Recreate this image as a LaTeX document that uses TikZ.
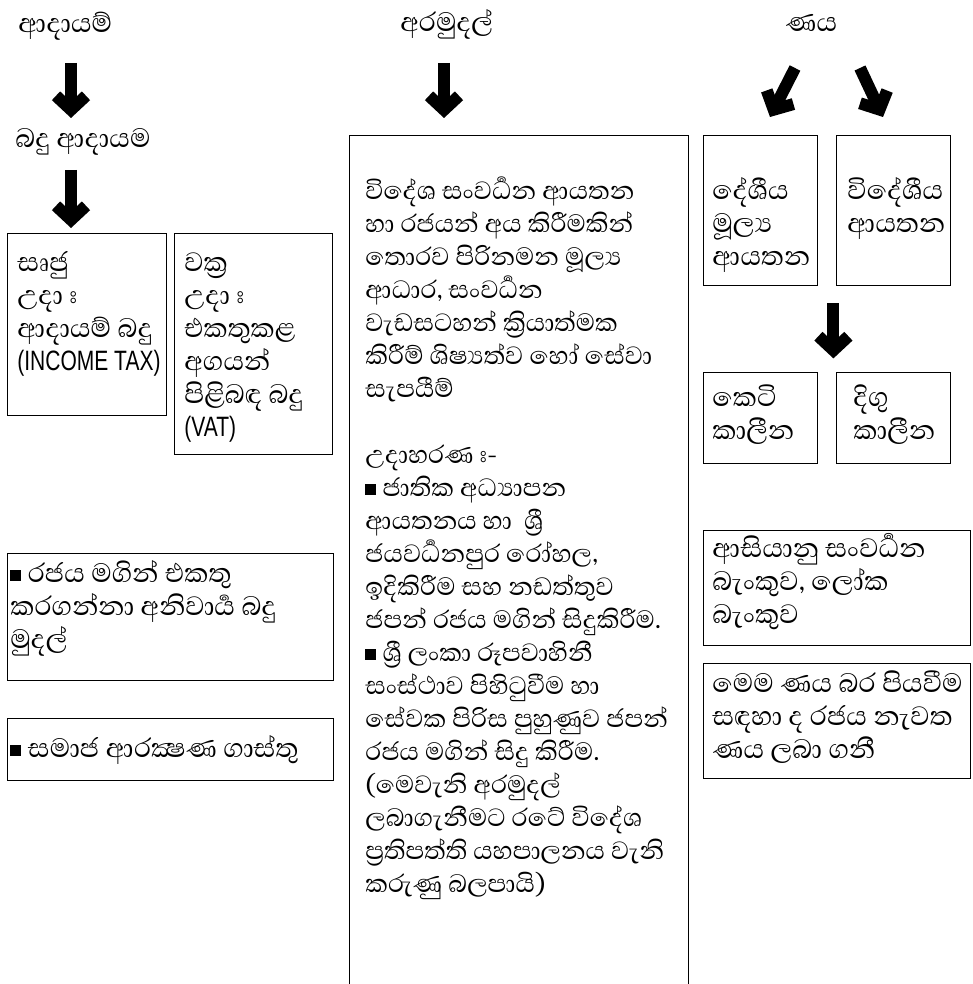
\documentclass[tikz,border=0pt]{standalone}
\usepackage{fontspec}
\setmainfont{Abhaya Libre}[Script=Sinhala]
\newfontfamily\latinfont[FakeStretch=0.75]{Liberation Sans}
\usetikzlibrary{arrows.meta}
\newcommand{\sqb}{\rule[0.5pt]{5.5pt}{5.5pt}}
\newcommand{\lnstrut}{\rule{0pt}{18pt}}
\lineskiplimit=-100pt

\begin{document}
\begin{tikzpicture}[x=0.5pt, y=-0.5pt,
    every node/.style={font=\fontsize{17}{16.5}\selectfont},
    box/.style={draw, line width=0.7pt, anchor=north west, inner sep=0pt},
    head/.style={anchor=base west, inner sep=0pt},
    txt/.style={anchor=north west, align=left, inner sep=0pt},
    bigarrow/.style={line width=6pt, -{Straight Barb[length=7pt, width=15pt]}}]
        \useasboundingbox (0,0) rectangle (973,984);

        % Headings
        \node[head] (income) at (18,33) {ආදායම්};
        \node[head] (taxrev) at (15,148) {බදු ආදායම};
        \node[head] (grants) at (400,32) {අරමුදල්};
        \node[head] (loans) at (785,32) {ණය};

        % Tax boxes
        \node[box, minimum width=79.5pt, minimum height=91pt] (direct) at (7,233) {};
        \node[txt] (directtxt) at ([shift={(10,2)}]direct.north west)
            {\lnstrut සෘජු\\උදා^^^^00a0ඃ\\ආදායම් බදු\\{\latinfont\fontsize{14}{16.5}\selectfont (INCOME TAX)}};
        \node[box, minimum width=79pt, minimum height=110.5pt] (indirect) at (174,233) {};
        \node[txt] (indirecttxt) at ([shift={(10,2)}]indirect.north west)
            {\lnstrut වක්^^^^200dර\\උදා^^^^00a0ඃ\\එකතුකළ\\අගයන්\\පිළිබඳ බදු\\{\latinfont\fontsize{14}{16.5}\selectfont (VAT)}};
        \node[box, minimum width=163pt, minimum height=63.5pt] (compulsory) at (7,553) {};
        \node[txt] (compulsorytxt) at ([shift={(3,-7)}]compulsory.north west)
            {\lnstrut\sqb{} රජය මගින් එකතු\\කරගන්නා අනිවාර්^^^^200dය බදු\\මුදල්};
        \node[box, minimum width=163pt, minimum height=31pt] (social) at (7,718) {};
        \node[txt] (socialtxt) at ([shift={(3,3)}]social.north west)
            {\lnstrut\sqb{} සමාජ ආරක්^^^^200dෂණ ගාස්තු};

        % Grant box (runs off the page)
        \node[box, minimum width=169.5pt, minimum height=440pt] (grantbox) at (349,135) {};
        \node[txt, font=\fontsize{16}{16.5}\selectfont] (granttxt)
            at ([shift={(16,28)}]grantbox.north west)
            {\lnstrut විදේශ සංවර්^^^^200dධන ආයතන\\
             හා රජයන් අය කිරීමකින්\\
             තොරව පිරිනමන මූල්^^^^200dය\\
             ආධාර, සංවර්^^^^200dධන\\
             වැඩසටහන් ක්^^^^200dරියාත්මක\\
             කිරීම් ශිෂ්^^^^200dයත්ව හෝ සේවා\\
             සැපයීම්\\[16.5pt]
             උදාහරණ^^^^00a0ඃ-\\
             \sqb{} ජාතික අධ්^^^^200dයාපන\\
             ආයතනය හා \ ශ්^^^^200dරී\\
             ජයවර්^^^^200dධනපුර රෝහල,\\
             ඉදිකිරීම සහ නඩත්තුව\\
             ජපන් රජය මගින් සිදුකිරීම.\\
             \sqb{} ශ්^^^^200dරී ලංකා රූපවාහිනී\\
             සංස්ථාව පිහිටුවීම හා\\
             සේවක පිරිස පුහුණුව ජපන්\\
             රජය මගින් සිදු කිරීම.\\
             (මෙවැනි අරමුදල්\\
             ලබාගැනීමට රටේ විදේශ\\
             ප්^^^^200dරතිපත්ති යහපාලනය වැනි\\
             කරුණු බලපායි)};

        % Loan boxes
        \node[box, minimum width=57pt, minimum height=75pt] (local) at (703,135) {};
        \node[txt] (localtxt) at ([shift={(9,28)}]local.north west)
            {\lnstrut දේශීය\\මූල්^^^^200dය\\ආයතන};
        \node[box, minimum width=57pt, minimum height=75pt] (foreign) at (836,135) {};
        \node[txt] (foreigntxt) at ([shift={(11,28)}]foreign.north west)
            {\lnstrut විදේශීය\\ආයතන};
        \node[box, minimum width=57pt, minimum height=45.5pt] (short) at (703,372) {};
        \node[txt] (shorttxt) at ([shift={(9,-2)}]short.north west)
            {\lnstrut කෙටි\\කාලීන};
        \node[box, minimum width=57pt, minimum height=45.5pt] (long) at (836,372) {};
        \node[txt] (longtxt) at ([shift={(17,-2)}]long.north west)
            {\lnstrut දිගු\\කාලීන};
        \node[box, minimum width=133.5pt, minimum height=57.5pt] (lenders) at (703,530) {};
        \node[txt] (lenderstxt) at ([shift={(9,-9)}]lenders.north west)
            {\lnstrut ආසියානු සංවර්^^^^200dධන\\බැංකුව, ලෝක\\බැංකුව};
        \node[box, minimum width=133.5pt, minimum height=57.5pt] (repay) at (703,663) {};
        \node[txt] (repaytxt) at ([shift={(9,-7)}]repay.north west)
            {\lnstrut මෙම ණය බර පියවීම\\සඳහා ද රජය නැවත\\ණය ලබා ගනී};

        % Arrows
        \draw[bigarrow] (income.base west) ++(53,30) -- ++(0,55);
        \draw[bigarrow] (taxrev.base west) ++(56,22) -- ++(0,58);
        \draw[bigarrow] (grants.base west) ++(44,31) -- ++(0,55);
        \draw[bigarrow] (loans.base west) ++(10,36) -- ++(-25,49);
        \draw[bigarrow] (loans.base west) ++(75,36) -- ++(23,49);
        \draw[bigarrow] (local.south east) ++(15,17) -- ++(0,55);
    \end{tikzpicture}
\end{document}
